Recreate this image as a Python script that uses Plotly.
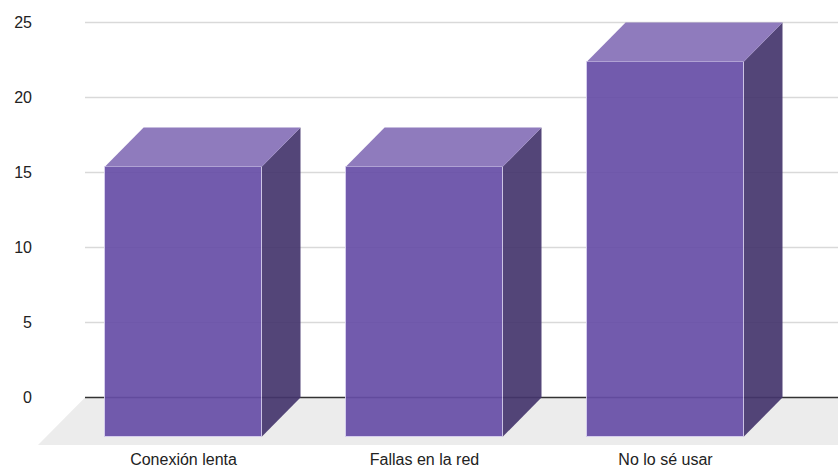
import plotly.graph_objects as go

# ---- data ----
categories = ["Conexión lenta", "Fallas en la red", "No lo sé usar"]
values = [18, 18, 25]
y_ticks = [0, 5, 10, 15, 20, 25]

# ---- 3D look parameters (axis units) ----
BAR_W = 0.651          # front face width (category units)
BAR_DX = 0.16          # bar depth, horizontal
BAR_DY = 2.6           # bar depth, vertical (value units)
FLOOR_DX = 0.195
FLOOR_DY = 3.167
BACK_LEFT = -0.4087    # left edge of back wall
X_MIN, X_MAX = -0.6245, 2.7158
Y_MIN, Y_MAX = -3.367, 26.5

FRONT = "#674ea7"
TOP = "#8570b7"
SIDE = "#44356c"
OPA = 0.92

xs = list(range(len(categories)))

fig = go.Figure()

# side and top faces
for x, v in zip(xs, values):
    xl, xr = x - BAR_W / 2, x + BAR_W / 2
    fig.add_trace(go.Scatter(
        x=[xr, xr, xr + BAR_DX, xr + BAR_DX, xr],
        y=[-BAR_DY, v - BAR_DY, v, 0, -BAR_DY],
        fill="toself", fillcolor=SIDE, opacity=OPA, mode="lines",
        line=dict(width=0), hoverinfo="skip", showlegend=False))
    fig.add_trace(go.Scatter(
        x=[xl, xr, xr + BAR_DX, xl + BAR_DX, xl],
        y=[v - BAR_DY, v - BAR_DY, v, v, v - BAR_DY],
        fill="toself", fillcolor=TOP, opacity=OPA, mode="lines",
        line=dict(width=0), hoverinfo="skip", showlegend=False))

# front faces
fig.add_trace(go.Bar(
    x=xs, y=values, base=-BAR_DY, width=BAR_W,
    marker=dict(color=FRONT, opacity=OPA, line=dict(color="#d3caec", width=1)),
    showlegend=False, hoverinfo="skip"))

# floor
far_right = X_MAX + 0.2
fig.add_shape(type="path", xref="x", yref="y", layer="below",
              path=f"M {BACK_LEFT},0 L {far_right},0 L {far_right - FLOOR_DX},{-FLOOR_DY} "
                   f"L {BACK_LEFT - FLOOR_DX},{-FLOOR_DY} Z",
              fillcolor="#ececec", line=dict(width=0))

# gridlines on back wall
for t in y_ticks:
    if t == 0:
        fig.add_shape(type="line", xref="x", yref="y", layer="below",
                      x0=BACK_LEFT, x1=X_MAX, y0=t, y1=t,
                      line=dict(color="#333333", width=1.5))
    else:
        fig.add_shape(type="line", xref="x", yref="y", layer="below",
                      x0=BACK_LEFT, x1=X_MAX, y0=t, y1=t,
                      line=dict(color="#d9d9d9", width=1.5))

fig.update_layout(
    width=838, height=468,
    margin=dict(l=33, r=0, t=0, b=20, autoexpand=False),
    paper_bgcolor="white", plot_bgcolor="white",
    font=dict(family="Liberation Sans, Arial, sans-serif", size=16, color="#222222"),
    xaxis=dict(range=[X_MIN, X_MAX], tickvals=xs, ticktext=categories,
               showgrid=False, zeroline=False, showline=False, ticks="",
               tickfont=dict(size=16), automargin=False,
               fixedrange=True),
    yaxis=dict(range=[Y_MIN, Y_MAX], tickvals=y_ticks, automargin=False,
               showgrid=False, zeroline=False, showline=False, ticks="",
               fixedrange=True),
    bargap=0,
)

fig.write_html("out.html")
